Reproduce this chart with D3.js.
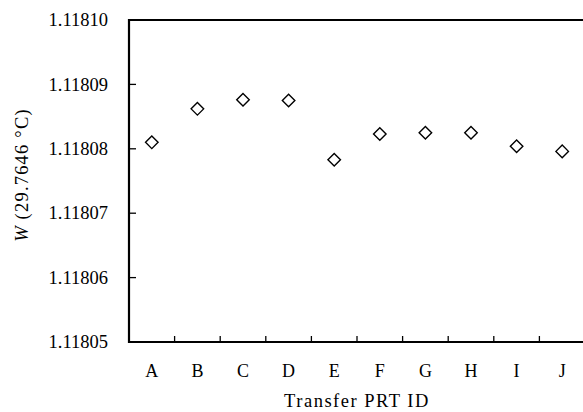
<!DOCTYPE html>
<html>
<head>
<meta charset="utf-8">
<script src="https://cdn.jsdelivr.net/npm/d3@7"></script>
<style>
  html, body { margin: 0; padding: 0; background: #fff; }
  svg { display: block; }
  text { font-family: "Liberation Serif", "Times New Roman", serif; fill: #000; }
</style>
</head>
<body>
<svg id="chart" width="583" height="412"></svg>
<script>
const categories = ["A", "B", "C", "D", "E", "F", "G", "H", "I", "J"];
const values = [1.1180810, 1.1180862, 1.1180876, 1.1180875, 1.1180783, 1.1180823, 1.1180825, 1.1180825, 1.1180804, 1.1180796];
const yTicks = [1.11805, 1.11806, 1.11807, 1.11808, 1.11809, 1.11810];
const xTitle = "Transfer PRT ID";
const yTitleItalic = "W";
const yTitleRest = " (29.7646 °C)";

const svg = d3.select("#chart");
const m = { left: 129, top: 20, bottom: 342, right: 585 };

const x = d3.scaleBand().domain(categories).range([m.left, m.right]).padding(0);
const y = d3.scaleLinear().domain([1.11805, 1.11810]).range([m.bottom, m.top]);

// Top frame line
svg.append("line")
  .attr("x1", m.left).attr("x2", 583)
  .attr("y1", m.top).attr("y2", m.top)
  .attr("stroke", "#000").attr("stroke-width", 2.2);

// Y axis
const yAxis = svg.append("g").attr("transform", `translate(${m.left},0)`);
yAxis.append("line").attr("x1", 0).attr("x2", 0).attr("y1", m.top - 1).attr("y2", m.bottom + 1)
  .attr("stroke", "#000").attr("stroke-width", 2.2);
yAxis.selectAll("line.tick").data(yTicks).join("line")
  .attr("class", "tick")
  .attr("x1", 0).attr("x2", 7)
  .attr("y1", d => y(d)).attr("y2", d => y(d))
  .attr("stroke", "#000").attr("stroke-width", 1.3);
yAxis.selectAll("text").data(yTicks).join("text")
  .attr("x", -21).attr("y", d => y(d))
  .attr("dy", "0.34em")
  .attr("text-anchor", "end")
  .style("font-size", "18.5px")
  .text(d => d3.format(".5f")(d));

// X axis
const xAxis = svg.append("g");
xAxis.append("line").attr("x1", m.left - 1).attr("x2", 583).attr("y1", m.bottom).attr("y2", m.bottom)
  .attr("stroke", "#000").attr("stroke-width", 2.2);
xAxis.selectAll("line.tick").data(categories.slice(1)).join("line")
  .attr("class", "tick")
  .attr("x1", d => x(d)).attr("x2", d => x(d))
  .attr("y1", m.bottom).attr("y2", m.bottom - 6)
  .attr("stroke", "#000").attr("stroke-width", 1.3);
xAxis.selectAll("text").data(categories).join("text")
  .attr("x", d => x(d) + x.bandwidth() / 2)
  .attr("y", 377)
  .attr("text-anchor", "middle")
  .style("font-size", "18px")
  .text(d => d);

// X title
svg.append("text")
  .attr("x", (m.left + m.right) / 2)
  .attr("y", 407)
  .attr("text-anchor", "middle")
  .style("font-size", "18.5px")
  .style("letter-spacing", "1.5px")
  .text(xTitle);

// Y title
const yt = svg.append("text")
  .attr("transform", `translate(28,175) rotate(-90)`)
  .attr("text-anchor", "middle")
  .style("font-size", "18.5px")
  .style("letter-spacing", "1.2px");
yt.append("tspan").style("font-style", "italic").text(yTitleItalic);
yt.append("tspan").text(yTitleRest);

// Points (diamonds)
const sym = d3.symbol().type(d3.symbolDiamond2).size(100);
svg.append("g").selectAll("path").data(values).join("path")
  .attr("transform", (d, i) => `translate(${x(categories[i]) + x.bandwidth() / 2},${y(d)})`)
  .attr("d", sym)
  .attr("fill", "#fff")
  .attr("stroke", "#000")
  .attr("stroke-width", 1.4);
</script>
</body>
</html>
